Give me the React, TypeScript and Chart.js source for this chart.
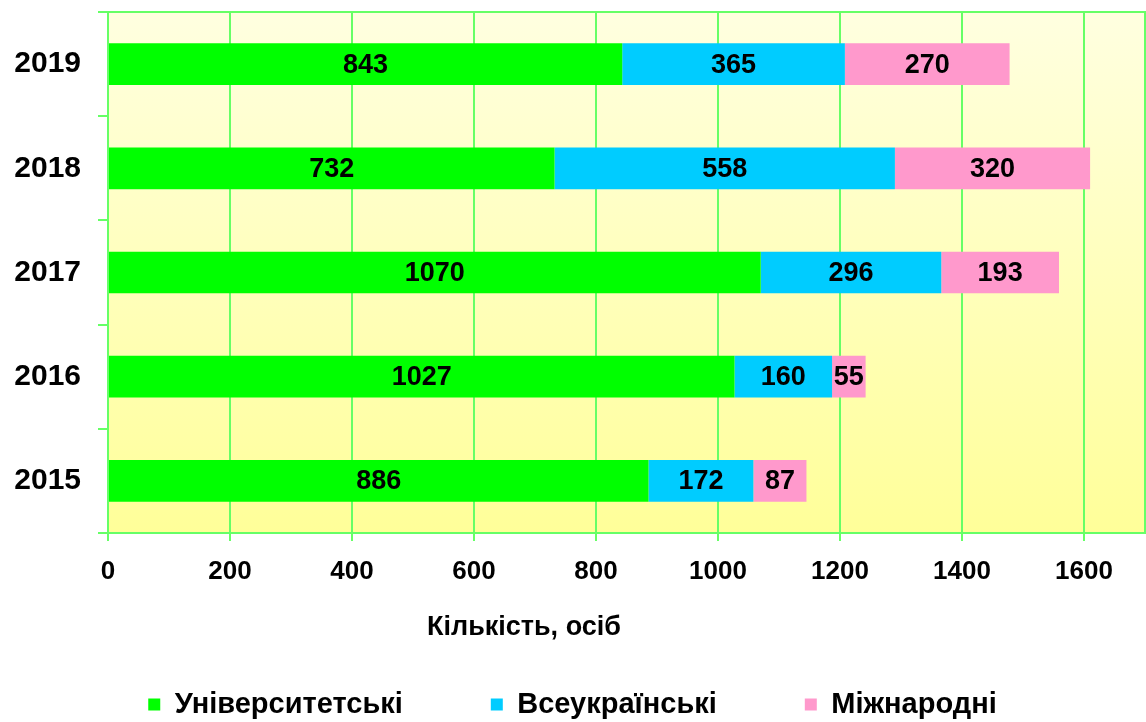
import React, { useEffect, useRef } from 'react';
import { Chart, registerables } from 'chart.js';

Chart.register(...registerables);

const years = ['2019', '2018', '2017', '2016', '2015'];
const university = [843, 732, 1070, 1027, 886];
const allUkrainian = [365, 558, 296, 160, 172];
const international = [270, 320, 193, 55, 87];
const seriesNames = ['Університетські', 'Всеукраїнські', 'Міжнародні'];
const seriesColors = ['#00ff00', '#00ccff', '#ff99cc'];
const xTitle = 'Кількість, осіб';
const xMin = 0;
const xMax = 1700;
const xStep = 200;

const FONT = '"Liberation Sans", Arial, sans-serif';
const GRID = '#66ff66';

const plotBg = {
  id: 'plotBg',
  beforeDraw(chart: any) {
    const { ctx, chartArea: a } = chart;
    const g = ctx.createLinearGradient(0, a.top, 0, a.bottom);
    g.addColorStop(0, '#ffffe0');
    g.addColorStop(1, '#ffff99');
    ctx.save();
    ctx.fillStyle = g;
    ctx.fillRect(a.left, a.top, a.right - a.left, a.bottom - a.top);
    ctx.restore();
  },
  beforeDatasetsDraw(chart: any) {
    const { ctx, chartArea: a } = chart;
    ctx.save();
    ctx.strokeStyle = GRID;
    ctx.lineWidth = 2;
    ctx.beginPath();
    ctx.moveTo(a.left - 10, a.top);
    ctx.lineTo(a.right, a.top);
    ctx.lineTo(a.right, a.bottom);
    ctx.stroke();
    ctx.restore();
  },
};

const valueLabels = {
  id: 'valueLabels',
  afterDatasetsDraw(chart: any) {
    const { ctx } = chart;
    ctx.save();
    ctx.font = `bold 27px ${FONT}`;
    ctx.fillStyle = '#000000';
    ctx.textAlign = 'center';
    ctx.textBaseline = 'middle';
    chart.data.datasets.forEach((ds: any, di: number) => {
      const meta = chart.getDatasetMeta(di);
      meta.data.forEach((el: any, i: number) => {
        const x = (el.x + el.base) / 2;
        ctx.fillText(String(ds.data[i]), x, el.y + 1);
      });
    });
    ctx.restore();
  },
};

const axisTitle = {
  id: 'axisTitle',
  afterDraw(chart: any) {
    const { ctx } = chart;
    ctx.save();
    ctx.font = `bold 27px ${FONT}`;
    ctx.fillStyle = '#000000';
    ctx.textAlign = 'center';
    ctx.textBaseline = 'middle';
    ctx.fillText(xTitle, 524, 628);
    ctx.restore();
  },
};

export default function App() {
  const ref = useRef<HTMLCanvasElement | null>(null);

  useEffect(() => {
    document.body.style.margin = '0';
    const canvas = ref.current;
    if (!canvas) return;
    const data = [university, allUkrainian, international];
    const chart = new Chart(canvas, {
      type: 'bar',
      data: {
        labels: years,
        datasets: seriesNames.map((name, i) => ({
          label: name,
          data: data[i],
          backgroundColor: seriesColors[i],
          borderWidth: 0,
          categoryPercentage: 1,
          barPercentage: 0.4,
        })),
      },
      options: {
        indexAxis: 'y',
        responsive: false,
        animation: false,
        layout: { padding: { top: 12, right: 1, left: 0, bottom: 0 } },
        scales: {
          x: {
            type: 'linear',
            stacked: true,
            min: xMin,
            max: xMax,
            afterFit(scale: any) {
              scale.height = 69;
              scale.paddingLeft = 0;
              scale.paddingRight = 0;
            },
            ticks: {
              stepSize: xStep,
              includeBounds: false,
              color: '#000000',
              font: { family: FONT, size: 26, weight: 'bold' },
              padding: 15,
              maxRotation: 0,
              callback: (v: any) => String(v),
            },
            grid: {
              color: GRID,
              lineWidth: 2,
              tickLength: 8,
              drawTicks: true,
            },
            border: { color: GRID, width: 2 },
          },
          y: {
            type: 'category',
            stacked: true,
            afterFit(scale: any) {
              scale.width = 108;
              scale.paddingTop = 0;
              scale.paddingBottom = 0;
            },
            ticks: {
              color: '#000000',
              font: { family: FONT, size: 30, weight: 'bold' },
              padding: 17,
            },
            grid: {
              display: true,
              drawOnChartArea: false,
              drawTicks: true,
              offset: true,
              tickLength: 10,
              color: GRID,
              lineWidth: 2,
            },
            border: { color: GRID, width: 2 },
          },
        },
        plugins: {
          legend: {
            position: 'bottom',
            maxHeight: 120,
            labels: {
              boxWidth: 12,
              boxHeight: 12,
              padding: 88,
              color: '#000000',
              font: { family: FONT, size: 29, weight: 'bold' },
            },
          },
          title: { display: false },
          tooltip: { enabled: false },
        },
      },
      plugins: [plotBg, valueLabels, axisTitle],
    });
    return () => chart.destroy();
  }, []);

  return (
    <div style={{ width: 1146, height: 722 }}>
      <canvas ref={ref} width={1146} height={722} style={{ display: 'block' }} />
    </div>
  );
}
